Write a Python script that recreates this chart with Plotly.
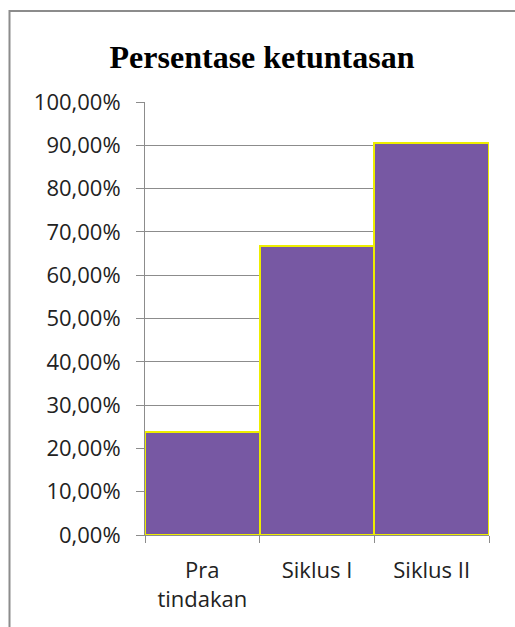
import plotly.graph_objects as go

categories = ["Pra<br>tindakan", "Siklus I", "Siklus II"]
values = [0.2381, 0.6667, 0.9048]
tick_vals = [i / 10 for i in range(11)]

W, H = 515, 627
L, R, T, B = 145, 26, 102, 92
pw, ph = W - L - R, H - T - B

def px_to_paper_x(px):
    return (px - L) / pw

def py_to_paper_y(py):
    return (H - B - py) / ph

fig = go.Figure(
    go.Bar(
        x=categories,
        y=values,
        marker=dict(color="#7758A3", line=dict(color="#EDED00", width=2)),
        width=1.0,
        hoverinfo="skip",
    )
)

# outer chart border (extends beyond the right and bottom edges)
x0 = px_to_paper_x(9.5)
y0 = py_to_paper_y(11)
fig.add_shape(
    type="path",
    xref="paper", yref="paper",
    path=f"M {x0},{py_to_paper_y(H + 20)} L {x0},{y0} L {px_to_paper_x(W + 20)},{y0}",
    line=dict(color="#8C8C8C", width=2),
)

label_font = dict(family="Open Sans", size=22, color="#222222")

fig.update_layout(
    width=W, height=H,
    margin=dict(l=L, r=R, t=T, b=B),
    paper_bgcolor="white",
    plot_bgcolor="white",
    separators=",.",
    bargap=0,
    showlegend=False,
    title=dict(
        text="<b>Persentase ketuntasan</b>",
        x=px_to_paper_x(262), xref="paper", xanchor="center",
        y=1 - 57 / H, yref="container", yanchor="middle",
        font=dict(family="Liberation Serif", size=32, color="black"),
    ),
    font=label_font,
    xaxis=dict(
        showline=True, linecolor="#8C8C8C", linewidth=1,
        ticks="outside", ticklen=7, tickcolor="#8C8C8C",
        tickson="boundaries",
        showgrid=False,
        tickfont=label_font,
        ticklabelstandoff=16,
    ),
    yaxis=dict(
        range=[0, 1],
        tickvals=tick_vals,
        tickformat=".2%",
        showline=True, linecolor="#8C8C8C", linewidth=1,
        ticks="outside", ticklen=8, tickcolor="#8C8C8C",
        showgrid=True, gridcolor="#8C8C8C", gridwidth=1,
        zeroline=False,
        tickfont=label_font,
        ticklabelstandoff=11,
    ),
)

fig.write_html("out.html")
